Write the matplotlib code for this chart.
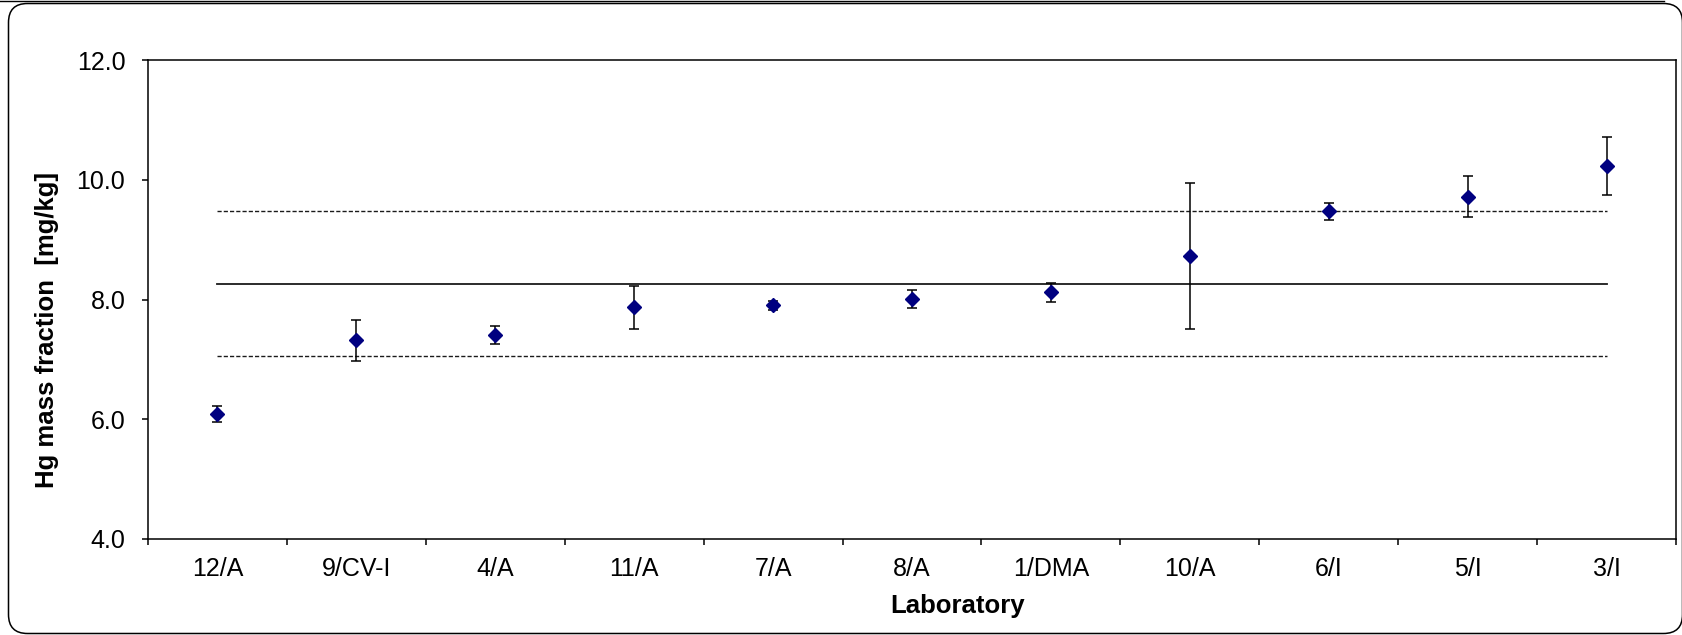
import matplotlib
matplotlib.use('Agg')
import matplotlib.pyplot as plt
from matplotlib.patches import FancyBboxPatch
from matplotlib.lines import Line2D
from matplotlib.transforms import IdentityTransform

plt.rcParams['font.family'] = ['Liberation Sans', 'DejaVu Sans']

# data
labs = ['12/A', '9/CV-I', '4/A', '11/A', '7/A', '8/A', '1/DMA', '10/A', '6/I', '5/I', '3/I']
vals = [6.09, 7.32, 7.40, 7.87, 7.90, 8.01, 8.12, 8.73, 9.47, 9.72, 10.23]
errs = [0.13, 0.34, 0.15, 0.36, 0.07, 0.15, 0.16, 1.22, 0.14, 0.34, 0.48]
ref_mean = 8.265
ref_low = 7.06
ref_high = 9.47
yticks = [4, 6, 8, 10, 12]

W, H, DPI = 1683, 635, 100
fig = plt.figure(figsize=(W / DPI, H / DPI), dpi=DPI)
ax = fig.add_axes([148 / W, 1 - 539 / H, (1676 - 148) / W, (539 - 60) / H])

xs = list(range(len(labs)))

# reference lines (drawn from first to last lab)
ax.plot([xs[0], xs[-1]], [ref_mean, ref_mean], color='#1a1a1a', lw=1.3, zorder=2)
for v in [ref_low, ref_high]:
    ax.plot([xs[0], xs[-1]], [v, v], color='#1a1a1a', lw=1.0, dashes=(3, 1.5), zorder=2)

# lab results with uncertainties
ax.errorbar(xs, vals, yerr=errs, fmt='none', ecolor='black', elinewidth=1.1,
            capsize=3.6, capthick=1.1, zorder=3)
ax.plot(xs, vals, linestyle='none', marker='D', markersize=7.5,
        color='#000080', markeredgecolor='#000080', zorder=4)

ax.set_xlim(-0.5, len(labs) - 0.5)
ax.set_ylim(4, 12)

# category boundaries as major ticks, labels on minor ticks at centres
ax.set_xticks([i - 0.5 for i in range(len(labs) + 1)])
ax.set_xticklabels([])
ax.set_xticks(xs, minor=True)
ax.set_xticklabels(labs, minor=True, fontsize=18)
ax.tick_params(axis='x', which='major', direction='out', length=4, width=1.1)
ax.tick_params(axis='x', which='minor', length=0, pad=13)

ax.set_yticks(yticks)
ax.set_yticklabels(['%.1f' % t for t in yticks], fontsize=18)
ax.tick_params(axis='y', direction='out', length=4.3, width=1.1, pad=12)

for s in ax.spines.values():
    s.set_linewidth(1.1)
    s.set_color('black')

fig.text(958 / W, 1 - 606 / H, 'Laboratory', fontsize=18.5, fontweight='bold',
         ha='center', va='center')
fig.text(47 / W, 1 - 330 / H, 'Hg mass fraction  [mg/kg]', fontsize=18.5,
         fontweight='bold', rotation=90, ha='center', va='center')

# rounded chart border (pixel units) and the page line at the top
fig.patches.append(FancyBboxPatch((8.5, 1.5), 1674, 630,
                                  boxstyle='round,pad=0,rounding_size=19',
                                  facecolor='none', edgecolor='black', lw=1.1,
                                  transform=IdentityTransform(), figure=fig))
fig.lines.append(Line2D([0, 1664 / W], [1 - 0.6 / H, 1 - 0.6 / H], color='black', lw=1.0,
                        transform=fig.transFigure, figure=fig))

fig.savefig('out.png', dpi=DPI)
